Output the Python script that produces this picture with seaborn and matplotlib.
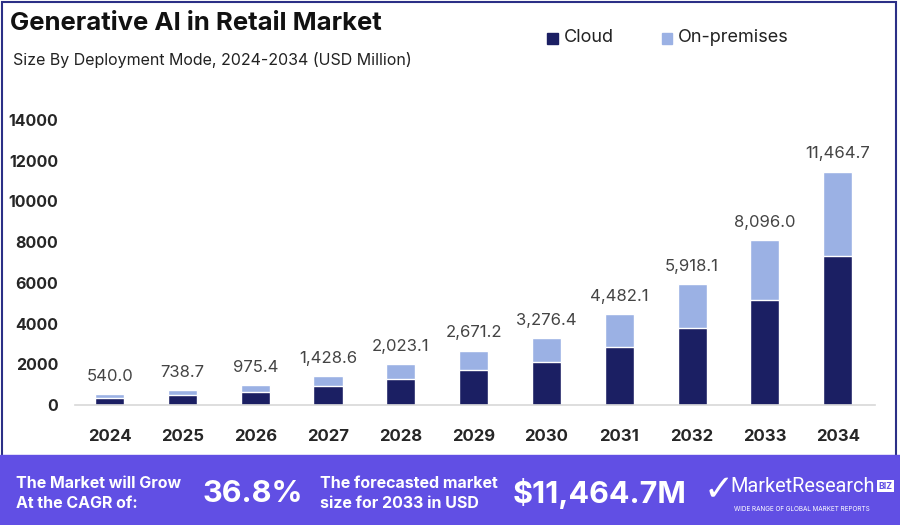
import matplotlib
matplotlib.use("Agg")
import matplotlib.pyplot as plt
import seaborn as sns
import pandas as pd
from matplotlib.patches import Rectangle

# data
years = ["2024", "2025", "2026", "2027", "2028", "2029", "2030", "2031", "2032", "2033", "2034"]
totals = [540.0, 738.7, 975.4, 1428.6, 2023.1, 2671.2, 3276.4, 4482.1, 5918.1, 8096.0, 11464.7]
cloud = [345, 473, 624, 914, 1295, 1710, 2097, 2868, 3788, 5181, 7337]
total_labels = ["540.0", "738.7", "975.4", "1,428.6", "2,023.1", "2,671.2", "3,276.4",
                "4,482.1", "5,918.1", "8,096.0", "11,464.7"]
yticks = [0, 2000, 4000, 6000, 8000, 10000, 12000, 14000]

CLOUD_C = "#1b1f63"
ONPREM_C = "#9bb1e4"
BANNER_C = "#614fe4"

df = pd.DataFrame({"year": years, "total": totals, "cloud": cloud})

sns.set_style("white")
plt.rcParams["font.family"] = ["Inter", "DejaVu Sans"]

fig = plt.figure(figsize=(9, 5.25), dpi=100)
ax = fig.add_axes([0.083, 0.2286, 0.889, 0.5429])

# on-premises shows as the part of the total above cloud
sns.barplot(data=df, x="year", y="total", color=ONPREM_C, width=0.4,
            saturation=1, ax=ax, order=years)
sns.barplot(data=df, x="year", y="cloud", color=CLOUD_C, width=0.4,
            saturation=1, ax=ax, order=years)

for i, (t, lab) in enumerate(zip(totals, total_labels)):
    ax.text(i, t + 500, lab, ha="center", va="bottom", fontsize=12,
            color="#444444")

ax.set_xlim(-0.48, 10.51)
ax.set_ylim(0, 14000)
ax.set_yticks(yticks)
ax.set_yticklabels([str(v) for v in yticks], fontsize=11.5, fontweight="bold")
ax.tick_params(axis="y", length=0, pad=12)
ax.tick_params(axis="x", length=0, pad=17, labelsize=12)
for lab in ax.get_xticklabels():
    lab.set_fontweight("bold")
ax.set_xlabel("")
ax.set_ylabel("")
for s in ["top", "right", "left"]:
    ax.spines[s].set_visible(False)
ax.spines["bottom"].set_color("#d8d8d8")
ax.spines["bottom"].set_linewidth(1.2)

# titles
fig.text(0.011, 0.955, "Generative AI in Retail Market", fontsize=18.5,
         fontweight="bold", ha="left", va="center", color="#111111")
fig.text(0.014, 0.885, "Size By Deployment Mode, 2024-2034 (USD Million)",
         fontsize=11.5, ha="left", va="center", color="#222222")

# legend
fig.patches.append(Rectangle((0.608, 0.917), 0.012, 0.021, transform=fig.transFigure,
                             color=CLOUD_C))
fig.text(0.627, 0.928, "Cloud", fontsize=13, va="center", color="#222222")
fig.patches.append(Rectangle((0.735, 0.917), 0.012, 0.021, transform=fig.transFigure,
                             color=ONPREM_C))
fig.text(0.753, 0.928, "On-premises", fontsize=13, va="center", color="#222222")

# frame
fig.patches.append(Rectangle((0.002, 0.12), 0.994, 0.876, transform=fig.transFigure,
                             fill=False, edgecolor="#2b2f86", linewidth=1.5))

# bottom banner
fig.patches.append(Rectangle((0, 0), 1, 0.133, transform=fig.transFigure,
                             color=BANNER_C, zorder=3))
fig.text(0.018, 0.08, "The Market will Grow", fontsize=11.5, fontweight="bold",
         color="white", va="center", zorder=4)
fig.text(0.018, 0.04, "At the CAGR of:", fontsize=11.5, fontweight="bold",
         color="white", va="center", zorder=4)
fig.text(0.225, 0.06, "36.8%", fontsize=22, fontweight="bold", color="white",
         va="center", zorder=4)
fig.text(0.356, 0.08, "The forecasted market", fontsize=11.5, fontweight="bold",
         color="white", va="center", zorder=4)
fig.text(0.356, 0.04, "size for 2033 in USD", fontsize=11.5, fontweight="bold",
         color="white", va="center", zorder=4)
fig.text(0.57, 0.06, "$11,464.7M", fontsize=22, fontweight="bold", color="white",
         va="center", zorder=4)
fig.text(0.782, 0.066, "\u2713", fontsize=26, fontweight="bold", color="white",
         va="center", zorder=4, family=["DejaVu Sans"])
fig.text(0.812, 0.074, "MarketResearch", fontsize=14.3, color="white",
         va="center", zorder=4, family=["Liberation Sans Narrow", "Roboto", "DejaVu Sans"])
fig.text(0.984, 0.074, "BIZ", fontsize=6.2, fontweight="bold", color=BANNER_C,
         va="center", ha="center", zorder=5,
         bbox=dict(boxstyle="square,pad=0.2", fc="white", ec="none"))
fig.text(0.816, 0.03, "WIDE RANGE OF GLOBAL MARKET REPORTS", fontsize=4.6,
         color="white", va="center", zorder=4)

fig.savefig("out.png", dpi=100)
